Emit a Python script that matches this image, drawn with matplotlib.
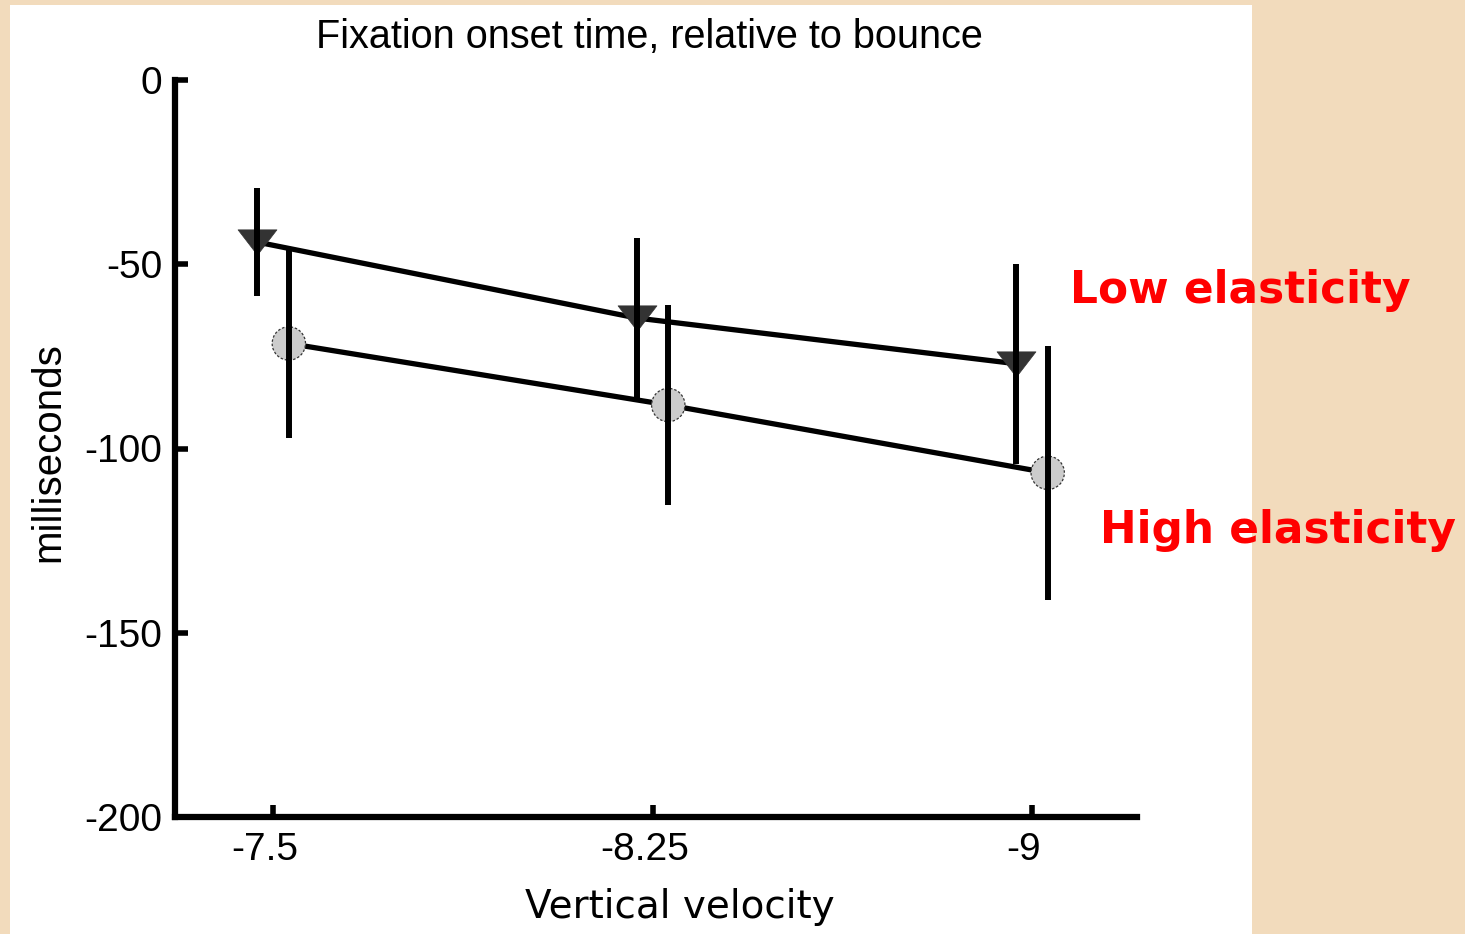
'''
Fixation onset time relative to bounce, two elasticity conditions
'''

import numpy as np
from matplotlib import pyplot as plt
from matplotlib.patches import Rectangle
from matplotlib.path import Path
from matplotlib.transforms import ScaledTranslation

# vertical velocity conditions
velocity = [-7.5, -8.25, -9]
velocity_labels = ['-7.5', '-8.25', '-9']

# low elasticity (triangles)
low_mean = [-44.0, -64.6, -77.0]
low_err = [14.7, 21.8, 27.2]

# high elasticity (circles)
high_mean = [-71.5, -88.2, -106.6]
high_err = [25.7, 27.1, 34.4]

shift = 0.031

beige = '#f2dbbc'
fig = plt.figure(figsize=(14.65, 9.34), dpi=100, facecolor=beige)

# white slide panel, kept behind the axes
fig.patches.append(Rectangle((10 / 1465, 0), 1242 / 1465, 929 / 934,
                             transform=fig.transFigure, facecolor='white',
                             edgecolor='none', zorder=-10))

ax = fig.add_axes([175 / 1465, 117 / 934, 962 / 1465, 737 / 934])
ax.set_facecolor('none')

x_low = np.array(velocity) + shift
x_high = np.array(velocity) - shift

# flat downward triangle marker
tri = Path([(-1, 0.65), (1, 0.65), (0, -0.65), (-1, 0.65)],
           [Path.MOVETO, Path.LINETO, Path.LINETO, Path.CLOSEPOLY])

ax.plot(x_low, low_mean, color='black', lw=3.8, zorder=2)
ax.plot(x_high, high_mean, color='black', lw=3.8, zorder=2)
ax.plot(x_low, low_mean, ls='none', marker=tri, ms=28,
        mfc='#333333', mec='#333333', mew=0.5, zorder=3)
ax.scatter(x_high, high_mean, s=24 ** 2, c='#cccccc', edgecolors='#333333',
           linewidths=0.9, linestyles=(0, (2, 1.5)), zorder=3)
ax.errorbar(x_low, low_mean, yerr=low_err, fmt='none', ecolor='black',
            elinewidth=4.3, capsize=0, zorder=4)
ax.errorbar(x_high, high_mean, yerr=high_err, fmt='none', ecolor='black',
            elinewidth=4.3, capsize=0, zorder=4)

ax.set_xlim(-7.306, -9.2075)
ax.set_ylim(-200, 0)
ax.set_yticks([0, -50, -100, -150, -200])
ax.set_yticklabels(['0', '-50', '-100', '-150', '-200'])
ax.set_xticks(velocity)
ax.set_xticklabels(velocity_labels)

for side in ['top', 'right']:
    ax.spines[side].set_visible(False)
for side in ['left', 'bottom']:
    ax.spines[side].set_linewidth(4.5)
ax.tick_params(direction='in', length=9, width=4, labelsize=28, pad=9)
ax.tick_params(axis='x', pad=11)
for lab in ax.get_xticklabels() + ax.get_yticklabels():
    lab.set_family('Liberation Sans')

# x labels sit a little left of their ticks in the original
nudge = ScaledTranslation(-8 / 100, 0, fig.dpi_scale_trans)
for lab in ax.get_xticklabels():
    lab.set_transform(lab.get_transform() + nudge)

fig.text(0.443, 0.960, 'Fixation onset time, relative to bounce',
         ha='center', va='center', fontsize=28.5, family='Liberation Sans')
fig.text(0.0328, 0.516, 'milliseconds', rotation=90, ha='center',
         va='center', fontsize=29, family='Liberation Sans')
fig.text(0.4642, 0.0289, 'Vertical velocity', ha='center', va='center',
         fontsize=28, family='DejaVu Sans')

fig.text(1070 / 1465, 1 - 290 / 934, 'Low elasticity', ha='left',
         va='center', fontsize=31.6, color='#ff0000', weight='bold',
         family='DejaVu Sans')
fig.text(1100 / 1465, 1 - 530 / 934, 'High elasticity', ha='left',
         va='center', fontsize=31.6, color='#ff0000', weight='bold',
         family='DejaVu Sans')

fig.savefig('out.png', dpi=100, facecolor=beige)
